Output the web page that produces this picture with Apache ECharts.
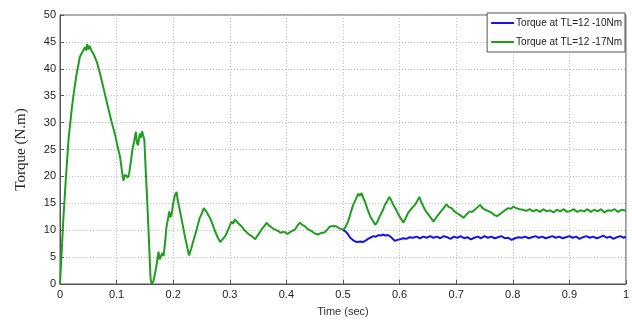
<!DOCTYPE html>
<html>
<head>
<meta charset="utf-8">
<script src="https://cdn.jsdelivr.net/npm/echarts@6/dist/echarts.min.js"></script>
<style>html,body{margin:0;padding:0;background:#fff}#c{width:632px;height:322px}</style>
</head>
<body>
<div id="c"></div>
<script>
const xTicks = [0,0.1,0.2,0.3,0.4,0.5,0.6,0.7,0.8,0.9,1];
const yTicks = [0,5,10,15,20,25,30,35,40,45,50];
const seriesNames = ['Torque at TL=12 -10Nm', 'Torque at TL=12 -17Nm'];

const greenT = [0,0.003,0.006,0.010,0.015,0.021,0.025,0.029,0.035,0.040,0.044,0.046,0.048,0.050,0.052,0.056,0.060,0.065,0.070,0.074,0.080,0.085,0.091,0.097,0.102,0.106,0.110,0.112,0.115,0.118,0.120,0.122,0.125,0.128,0.131,0.134,0.136,0.138,0.141,0.143,0.145,0.147,0.149,0.152,0.155,0.158,0.160,0.162,0.165,0.168,0.171,0.174,0.176,0.178,0.181,0.183,0.186,0.188,0.191,0.193,0.195,0.197,0.200,0.203,0.206,0.208,0.211,0.216,0.221,0.225,0.228,0.232,0.235,0.239,0.243,0.247,0.251,0.254,0.256,0.259,0.262,0.265,0.270,0.274,0.279,0.283,0.287,0.292,0.296,0.300,0.303,0.306,0.309,0.312,0.315,0.318,0.321,0.325,0.330,0.334,0.339,0.342,0.345,0.349,0.353,0.358,0.362,0.365,0.369,0.374,0.378,0.382,0.386,0.390,0.394,0.398,0.402,0.406,0.411,0.415,0.419,0.424,0.428,0.433,0.438,0.445,0.450,0.456,0.462,0.468,0.473,0.477,0.480,0.484,0.489,0.494,0.500,0.504,0.509,0.513,0.518,0.522,0.527,0.530,0.533,0.536,0.539,0.543,0.548,0.552,0.557,0.561,0.565,0.570,0.574,0.578,0.582,0.585,0.589,0.594,0.598,0.602,0.607,0.611,0.615,0.621,0.627,0.631,0.635,0.638,0.642,0.646,0.651,0.656,0.660,0.665,0.671,0.677,0.683,0.687,0.692,0.696,0.701,0.707,0.713,0.718,0.724,0.728,0.733,0.737,0.742,0.746,0.751,0.756,0.763,0.768,0.772,0.776,0.780,0.786,0.792,0.797,0.801,0.806,0.812,0.818,0.824,0.830,0.836,0.842,0.848,0.854,0.860,0.866,0.872,0.878,0.884,0.890,0.896,0.902,0.908,0.914,0.920,0.926,0.932,0.938,0.944,0.950,0.956,0.962,0.968,0.974,0.980,0.986,0.992,1.000];
const greenV = [0,6,12.3,19,26.8,32.8,36,38.8,42.2,43.2,44,43.4,44.6,43.6,44.3,43.3,42.6,41.3,39.4,37.7,35.0,32.8,30.2,27.9,25.4,23.7,20.6,19.2,20.3,20.6,19.8,20.4,22.6,25,26.5,28.3,26.2,25.8,28,27.2,28.4,27.6,26.8,20,13.4,6,1,0,0.5,2,3.8,6,4.6,4.4,5.8,5.2,8,10.5,12.2,13.5,12.4,12.8,15,16.5,17.1,15.6,14.1,11.4,8.7,6.8,5.3,6.6,7.8,9.2,10.8,12.3,13.2,14.1,13.8,13.4,12.8,12.3,11,9.8,8.6,7.8,8.3,8.9,9.8,10.8,11.6,11.2,12,12,11.3,11.4,10.7,10.1,9.6,9.2,8.9,8.7,8.3,9,9.6,10.4,10.9,11.4,10.9,10.5,10.2,10,9.8,9.5,9.7,9.6,9.3,9.6,9.9,10.1,10.8,11.4,11,10.7,10.2,9.8,9.4,9.2,9.5,9.6,10.2,10.7,11,10.8,10.7,10.3,10.1,10.5,11.6,13,14.7,15.6,16.8,16.4,16.9,15.9,15.3,14,12.6,11.9,11,11.6,12.6,13.6,14.7,15.4,16.2,15.6,14.7,13.8,12.9,12.2,11.4,12.3,13.2,14,14.7,15.4,16.2,15.3,14.4,13.6,12.9,12.2,11.6,12.4,13.2,14,14.8,14.3,14.1,13.6,13.2,12.8,12.3,12.9,13.5,13.4,13.8,14.2,14.7,14.2,13.8,13.6,13.2,12.8,12.6,12.9,13.2,13.7,14.1,14,14.4,14.1,13.9,13.8,13.6,13.9,13.5,13.8,13.4,13.9,13.5,13.7,13.3,13.8,13.5,13.9,13.4,13.6,13.9,13.4,13.7,13.5,13.9,13.4,13.8,13.5,13.9,13.3,13.7,13.6,13.9,13.4,13.8,13.6];

const blueT = [0.500,0.504,0.508,0.512,0.516,0.520,0.524,0.527,0.531,0.535,0.539,0.543,0.548,0.554,0.558,0.563,0.567,0.571,0.575,0.579,0.583,0.587,0.592,0.596,0.601,0.606,0.612,0.618,0.624,0.630,0.636,0.642,0.648,0.654,0.660,0.666,0.672,0.678,0.684,0.690,0.696,0.702,0.708,0.714,0.720,0.726,0.732,0.738,0.744,0.750,0.756,0.762,0.768,0.774,0.780,0.786,0.792,0.798,0.804,0.810,0.816,0.822,0.828,0.834,0.840,0.846,0.852,0.858,0.864,0.870,0.876,0.882,0.888,0.894,0.900,0.906,0.912,0.918,0.924,0.930,0.936,0.942,0.948,0.954,0.960,0.966,0.972,0.978,0.984,0.990,0.996,1.000];
const blueV = [10.1,9.8,9.4,8.7,8.3,8,7.8,7.7,7.9,7.8,8,8.3,8.6,8.9,8.8,9.1,9.0,9.2,9.0,9.1,8.9,8.5,8,8.2,8.3,8.5,8.4,8.7,8.6,8.8,8.5,8.8,8.6,8.9,8.6,8.8,8.5,8.9,8.7,8.4,8.8,8.6,8.9,8.5,8.7,8.3,8.6,8.8,8.5,8.9,8.6,8.8,8.5,8.7,8.9,8.5,8.6,8.2,8.5,8.7,8.6,8.8,8.5,8.7,8.9,8.6,8.8,8.5,8.7,8.9,8.6,8.8,8.5,8.7,8.9,8.6,8.8,8.4,8.7,8.9,8.6,8.8,8.5,8.7,9.0,8.6,8.8,8.4,8.7,8.9,8.6,8.8];

const pair = (t, v) => t.map((x, i) => [x, v[i]]);
const font = 'Liberation Sans, Arial, sans-serif';

const chart = echarts.init(document.getElementById('c'), null, {renderer: 'canvas'});
chart.setOption({
  animation: false,
  backgroundColor: '#fff',
  grid: {left: 60, right: 6, top: 15, bottom: 31, show: true, borderColor: '#555', borderWidth: 1, backgroundColor: 'transparent'},
  legend: {
    orient: 'vertical', right: 7, top: 13,
    data: seriesNames,
    itemWidth: 23, itemHeight: 2, itemGap: 9,
    padding: [5, 3, 5, 4],
    borderColor: '#555', borderWidth: 1, backgroundColor: '#fff',
    textStyle: {fontFamily: font, fontSize: 10, color: '#222', padding: [0, 0, 0, -3]},
    icon: 'rect'
  },
  xAxis: {
    type: 'value', min: 0, max: 1, interval: 0.1,
    name: 'Time (sec)', nameLocation: 'middle', nameGap: 22,
    nameTextStyle: {fontFamily: font, fontSize: 11, color: '#333'},
    axisLine: {show: true, lineStyle: {color: '#555'}},
    axisTick: {show: true, inside: true, length: 4, lineStyle: {color: '#555'}},
    axisLabel: {fontFamily: font, fontSize: 11, color: '#222', margin: 5,
      formatter: v => { const t = xTicks.find(x => Math.abs(x - v) < 1e-6); return t === undefined ? '' : String(t); }},
    splitLine: {show: true, lineStyle: {color: '#bbb', type: [1, 2]}}
  },
  yAxis: {
    type: 'value', min: 0, max: 50, interval: 5,
    name: 'Torque (N.m)', nameLocation: 'middle', nameGap: 31,
    nameTextStyle: {fontFamily: 'Liberation Serif, Times New Roman, serif', fontSize: 15, color: '#222'},
    axisLine: {show: true, lineStyle: {color: '#555'}},
    axisTick: {show: true, inside: true, length: 4, lineStyle: {color: '#555'}},
    axisLabel: {fontFamily: font, fontSize: 11, color: '#222', margin: 4,
      formatter: v => { const t = yTicks.find(x => Math.abs(x - v) < 1e-6); return t === undefined ? '' : String(t); }},
    splitLine: {show: true, lineStyle: {color: '#bbb', type: [1, 2]}}
  },
  series: [
    {name: seriesNames[0], type: 'line', data: pair(blueT, blueV), symbol: 'none', lineStyle: {color: '#1515e8', width: 2}, itemStyle: {color: '#1515e8'}, z: 2},
    {name: seriesNames[1], type: 'line', data: pair(greenT, greenV), symbol: 'none', lineStyle: {color: '#1f9e1f', width: 2}, itemStyle: {color: '#1f9e1f'}, z: 3}
  ]
});
</script>
</body>
</html>
